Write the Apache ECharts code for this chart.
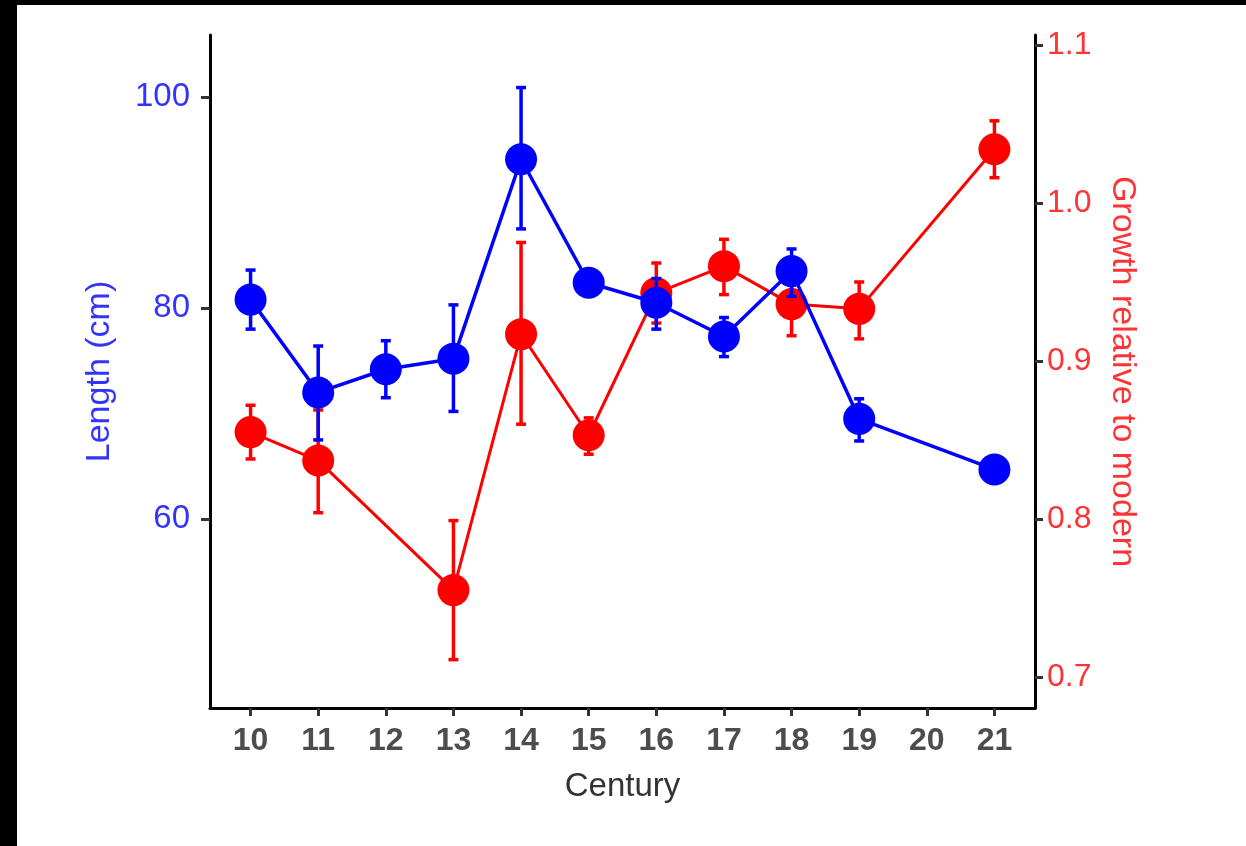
<!DOCTYPE html>
<html>
<head>
<meta charset="utf-8">
<script src="https://cdn.jsdelivr.net/npm/echarts@6/dist/echarts.min.js"></script>
<style>
  html, body { margin: 0; padding: 0; background: #ffffff; }
  #chart { width: 1246px; height: 846px; }
</style>
</head>
<body>
<div id="chart"></div>
<script>
// ---- Data ----
const centuryTicks = [10, 11, 12, 13, 14, 15, 16, 17, 18, 19, 20, 21];

const lengthCentury = [10, 11, 12, 13, 14, 15, 16, 17, 18, 19, 21];
const lengthMean = [80.8, 72.0, 74.2, 75.2, 94.1, 82.4, 80.5, 77.3, 83.5, 69.5, 64.7];
const lengthLow  = [78.0, 67.5, 71.5, 70.2, 87.5, 81.9, 78.0, 75.4, 81.1, 67.4, null];
const lengthHigh = [83.6, 76.4, 76.9, 80.3, 100.9, 82.9, 82.8, 79.1, 85.6, 71.4, null];

const growthCentury = [10, 11, 13, 14, 15, 16, 17, 18, 19, 21];
const growthMean = [0.855, 0.837, 0.755, 0.917, 0.853, 0.943, 0.960, 0.936, 0.933, 1.034];
const growthLow  = [0.838, 0.804, 0.711, 0.860, 0.841, 0.924, 0.942, 0.916, 0.914, 1.016];
const growthHigh = [0.872, 0.869, 0.799, 0.975, 0.864, 0.962, 0.977, 0.955, 0.950, 1.052];

const lengthTicks = [60, 80, 100];
const growthTicks = [0.7, 0.8, 0.9, 1.0, 1.1];

// ---- Build ----
const BLUE = '#0000ff';
const RED = '#ff0000';

function pairs(xs, ys) { return xs.map((x, i) => [x, ys[i]]); }
function errData(xs, lo, hi) {
  const out = [];
  xs.forEach((x, i) => { if (lo[i] != null && hi[i] != null) out.push([x, lo[i], hi[i]]); });
  return out;
}
function errRenderer(color) {
  return function (params, api) {
    const x = api.value(0);
    const pLo = api.coord([x, api.value(1)]);
    const pHi = api.coord([x, api.value(2)]);
    const w = 5;
    const st = { stroke: color, lineWidth: 3.5 };
    return {
      type: 'group',
      children: [
        { type: 'line', shape: { x1: pLo[0], y1: pLo[1], x2: pHi[0], y2: pHi[1] }, style: st },
        { type: 'line', shape: { x1: pLo[0] - w, y1: pLo[1], x2: pLo[0] + w, y2: pLo[1] }, style: st },
        { type: 'line', shape: { x1: pHi[0] - w, y1: pHi[1], x2: pHi[0] + w, y2: pHi[1] }, style: st }
      ]
    };
  };
}

const FONT = 'Liberation Sans, Arial, sans-serif';
const chart = echarts.init(document.getElementById('chart'), null, { renderer: 'canvas' });

const option = {
  backgroundColor: '#ffffff',
  animation: false,
  graphic: [
    { type: 'rect', shape: { x: 0, y: 0, width: 1246, height: 5 }, style: { fill: '#000' }, z: 100 },
    { type: 'rect', shape: { x: 0, y: 0, width: 17, height: 846 }, style: { fill: '#000' }, z: 100 }
  ],
  grid: { left: 210, right: 211, top: 35, bottom: 138, containLabel: false },
  xAxis: {
    type: 'value',
    min: 9.4, max: 21.6,
    name: 'Century',
    nameLocation: 'middle',
    nameGap: 62,
    nameTextStyle: { color: '#333333', fontSize: 33, fontFamily: FONT },
    axisLine: { show: true, lineStyle: { color: '#000', width: 3 } },
    axisTick: { show: true, length: 8, lineStyle: { color: '#333', width: 3 }, customValues: centuryTicks },
    axisLabel: { color: '#4d4d4d', fontSize: 32, fontWeight: 'bold', fontFamily: FONT, margin: 17, customValues: centuryTicks },
    splitLine: { show: false }
  },
  yAxis: [
    {
      type: 'value',
      position: 'left',
      min: 42.09, max: 105.88,
      name: 'Length (cm)',
      nameLocation: 'middle',
      nameGap: 93,
      nameRotate: 90,
      nameTextStyle: { color: '#3333ff', fontSize: 34, fontFamily: FONT },
      axisLine: { show: true, lineStyle: { color: '#000', width: 3 } },
      axisTick: { show: true, length: 9, lineStyle: { color: '#333', width: 3 }, customValues: lengthTicks },
      axisLabel: { color: '#3333ff', fontSize: 33, fontFamily: FONT, margin: 20, customValues: lengthTicks },
      splitLine: { show: false }
    },
    {
      type: 'value',
      position: 'right',
      min: 0.6804, max: 1.1063,
      name: 'Growth relative to modern',
      nameLocation: 'middle',
      nameGap: 70,
      nameRotate: -90,
      nameTextStyle: { color: '#ff3333', fontSize: 34, fontFamily: FONT },
      axisLine: { show: true, lineStyle: { color: '#000', width: 3 } },
      axisTick: { show: true, length: 8, lineStyle: { color: '#333', width: 3 }, customValues: growthTicks },
      axisLabel: { color: '#ff3333', fontSize: 32, fontFamily: FONT, margin: 12, customValues: growthTicks,
                   formatter: v => Number(v).toFixed(1) },
      splitLine: { show: false }
    }
  ],
  series: [
    {
      type: 'custom', name: 'growthErr', yAxisIndex: 1, z: 2,
      renderItem: errRenderer(RED),
      encode: { x: 0, y: [1, 2] },
      data: errData(growthCentury, growthLow, growthHigh)
    },
    {
      type: 'line', name: 'Growth', yAxisIndex: 1, z: 3,
      data: pairs(growthCentury, growthMean),
      symbol: 'circle', symbolSize: 32,
      lineStyle: { color: RED, width: 3 },
      itemStyle: { color: RED }
    },
    {
      type: 'custom', name: 'lengthErr', yAxisIndex: 0, z: 4,
      renderItem: errRenderer(BLUE),
      encode: { x: 0, y: [1, 2] },
      data: errData(lengthCentury, lengthLow, lengthHigh)
    },
    {
      type: 'line', name: 'Length', yAxisIndex: 0, z: 5,
      data: pairs(lengthCentury, lengthMean),
      symbol: 'circle', symbolSize: 32,
      lineStyle: { color: BLUE, width: 3.5 },
      itemStyle: { color: BLUE }
    }
  ]
};
chart.setOption(option);
</script>
</body>
</html>
